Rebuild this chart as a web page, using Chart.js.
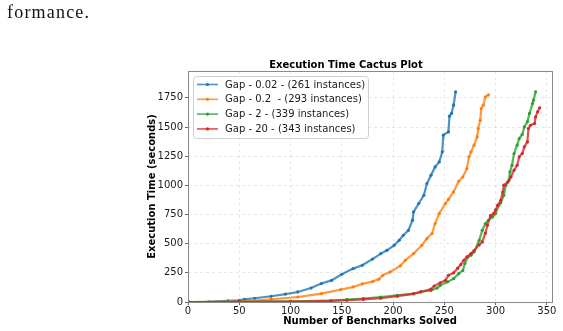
<!DOCTYPE html>
<html><head><meta charset="utf-8">
<script src="https://cdn.jsdelivr.net/npm/chart.js@4.4.1/dist/chart.umd.min.js"></script>
<style>
html,body{margin:0;padding:0;background:#fff;}
#wrap{position:relative;width:563px;height:331px;overflow:hidden;}
#cap{position:absolute;left:7px;top:3px;font-family:"Liberation Serif",serif;font-size:18px;line-height:19px;letter-spacing:1.2px;color:#111;white-space:nowrap;}
canvas{position:absolute;left:0;top:0;}
</style></head><body>
<div id="wrap"><canvas id="c" width="563" height="331"></canvas><div id="cap">formance.</div></div>
<script>
const chartTitle = "Execution Time Cactus Plot";
const xAxisTitle = "Number of Benchmarks Solved";
const yAxisTitle = "Execution Time (seconds)";
const seriesLabels = ["Gap - 0.02 - (261 instances)", "Gap - 0.2  - (293 instances)", "Gap - 2 - (339 instances)", "Gap - 20 - (343 instances)"];
const seriesColors = ["#1f77b4", "#ff7f0e", "#2ca02c", "#d62728"];
const seriesLineColors = ["rgba(31,119,180,0.8)", "rgba(255,127,14,0.8)", "rgba(44,160,44,0.8)", "rgba(214,39,40,0.8)"];

const blueN = [1, 20, 39, 50, 55, 65, 81, 95, 107, 120, 130, 140, 150, 161, 170, 180, 188, 194, 201, 206, 210, 215, 219, 220, 225, 230, 233, 237, 241, 245, 248, 249, 254, 255, 257, 259, 261];
const blueT = [0, 2, 9, 15, 23, 32, 49, 68, 86, 120, 158, 185, 238, 286, 315, 368, 415, 443, 486, 529, 572, 615, 701, 772, 844, 915, 1015, 1087, 1158, 1201, 1287, 1430, 1458, 1593, 1616, 1687, 1801];

const orangeN = [1, 30, 55, 81, 107, 130, 149, 161, 170, 180, 186, 190, 197, 207, 212, 220, 228, 233, 238, 241, 245, 251, 254, 259, 264, 268, 272, 274, 276, 279, 282, 283, 285, 286, 288, 290, 293];
const orangeT = [0, 1, 6, 23, 43, 72, 106, 129, 155, 175, 195, 229, 257, 310, 358, 415, 486, 544, 587, 672, 758, 844, 880, 943, 1035, 1072, 1144, 1244, 1287, 1344, 1415, 1487, 1558, 1658, 1687, 1758, 1775];

const greenN = [1, 50, 100, 140, 155, 171, 188, 204, 220, 227, 237, 243, 246, 253, 259, 264, 268, 270, 273, 276, 279, 284, 287, 290, 293, 297, 300, 303, 305, 308, 310, 313, 314, 316, 318, 321, 323, 326, 328, 331, 333, 336, 337, 339];
const greenT = [0, 2, 6, 12, 20, 30, 43, 57, 72, 88, 100, 120, 143, 172, 200, 243, 270, 329, 386, 401, 430, 529, 615, 672, 700, 729, 758, 829, 850, 915, 1001, 1044, 1115, 1172, 1273, 1344, 1401, 1436, 1501, 1544, 1616, 1701, 1730, 1801];

const redN = [1, 50, 100, 139, 155, 171, 188, 204, 220, 227, 237, 240, 246, 251, 254, 259, 263, 266, 269, 272, 276, 279, 284, 287, 290, 292, 295, 298, 300, 302, 305, 307, 308, 312, 315, 318, 321, 323, 326, 328, 331, 332, 334, 338, 339, 341, 343];
const redT = [0, 1, 4, 10, 15, 22, 32, 50, 70, 86, 110, 137, 165, 186, 229, 250, 290, 320, 358, 386, 415, 440, 490, 515, 590, 658, 740, 758, 790, 829, 872, 943, 1001, 1029, 1072, 1130, 1172, 1244, 1273, 1330, 1372, 1487, 1515, 1530, 1587, 1630, 1664];

const xTicks = [0, 50, 100, 150, 200, 250, 300, 350];
const yTicks = [0, 250, 500, 750, 1000, 1250, 1500, 1750];
const xMax = 355;
const yMax = 1980;

const seriesN = [blueN, orangeN, greenN, redN];
const seriesT = [blueT, orangeT, greenT, redT];

const datasets = seriesLabels.map((lab, i) => ({
  label: lab,
  data: seriesN[i].map((n, k) => ({x: n, y: seriesT[i][k]})),
  borderColor: seriesLineColors[i],
  backgroundColor: seriesColors[i],
  pointBackgroundColor: seriesColors[i],
  pointBorderWidth: 0,
  pointRadius: 1.6,
  borderWidth: 2.2,
  tension: 0,
  fill: false,
  order: 3 - i
}));

const frameLegend = {
  id: 'frameLegend',
  afterDatasetsDraw(chart) {
    const ctx = chart.ctx, a = chart.chartArea;
    ctx.save();
    ctx.strokeStyle = '#8a8a8a';
    ctx.lineWidth = 1;
    ctx.strokeRect(Math.round(a.left) + 0.5, Math.round(a.top) + 0.5, Math.round(a.right - a.left), Math.round(a.bottom - a.top));
    const x0 = 193.5, y0 = 76.5, w = 175, h = 62, r = 3;
    ctx.beginPath();
    ctx.moveTo(x0 + r, y0);
    ctx.arcTo(x0 + w, y0, x0 + w, y0 + h, r);
    ctx.arcTo(x0 + w, y0 + h, x0, y0 + h, r);
    ctx.arcTo(x0, y0 + h, x0, y0, r);
    ctx.arcTo(x0, y0, x0 + w, y0, r);
    ctx.closePath();
    ctx.fillStyle = 'rgba(255,255,255,0.85)';
    ctx.fill();
    ctx.strokeStyle = '#d0d0d0';
    ctx.stroke();
    chart.data.datasets.forEach((ds, i) => {
      const y = 84.5 + i * 14.8;
      ctx.strokeStyle = ds.borderColor;
      ctx.lineWidth = 1.6;
      ctx.beginPath(); ctx.moveTo(197, y); ctx.lineTo(218, y); ctx.stroke();
      ctx.fillStyle = ds.pointBackgroundColor;
      ctx.beginPath(); ctx.arc(207.5, y, 1.6, 0, Math.PI * 2); ctx.fill();
      ctx.fillStyle = '#1a1a1a';
      ctx.font = '10px "DejaVu Sans"';
      ctx.textBaseline = 'middle';
      ctx.textAlign = 'left';
      ctx.fillText(ds.label, 225, y + 0.5);
    });
    ctx.restore();
  }
};

new Chart(document.getElementById('c'), {
  type: 'line',
  data: {datasets},
  options: {
    responsive: false,
    animation: false,
    events: [],
    layout: {padding: {left: 140, right: 11, top: 0, bottom: 0}},
    plugins: {
      legend: {display: false},
      tooltip: {enabled: false},
      title: {display: true, text: chartTitle, color: '#000', font: {family: 'DejaVu Sans', size: 10, weight: 'bold'}, padding: {top: 59, bottom: 0}}
    },
    scales: {
      x: {
        type: 'linear', min: 0, max: xMax, bounds: 'data',
        afterBuildTicks: s => { s.ticks = xTicks.map(v => ({value: v})); },
        afterFit: s => { s.height = 29; },
        ticks: {color: '#1a1a1a', font: {family: 'DejaVu Sans', size: 10}, padding: 0, maxRotation: 0, autoSkip: false, callback: v => String(v)},
        grid: {color: 'rgba(0,0,0,0.12)', lineWidth: 0.8, tickColor: '#666', tickLength: 3, tickWidth: 1, tickBorderDash: []},
        border: {display: false, dash: [3, 3]},
        title: {display: true, text: xAxisTitle, color: '#000', font: {family: 'DejaVu Sans', size: 10, weight: 'bold'}, padding: {top: 0, bottom: 4}}
      },
      y: {
        type: 'linear', min: 0, max: yMax, bounds: 'data',
        afterBuildTicks: s => { s.ticks = yTicks.map(v => ({value: v})); },
        afterFit: s => { s.width = 48; },
        ticks: {color: '#1a1a1a', font: {family: 'DejaVu Sans', size: 10}, padding: 2, autoSkip: false, callback: v => String(v)},
        grid: {color: 'rgba(0,0,0,0.12)', lineWidth: 0.8, tickColor: '#666', tickLength: 3, tickWidth: 1, tickBorderDash: []},
        border: {display: false, dash: [3, 3]},
        title: {display: true, text: yAxisTitle, color: '#000', font: {family: 'DejaVu Sans', size: 10, weight: 'bold'}, padding: {top: 6, bottom: 0}}
      }
    }
  },
  plugins: [frameLegend]
});
</script>
</body></html>
